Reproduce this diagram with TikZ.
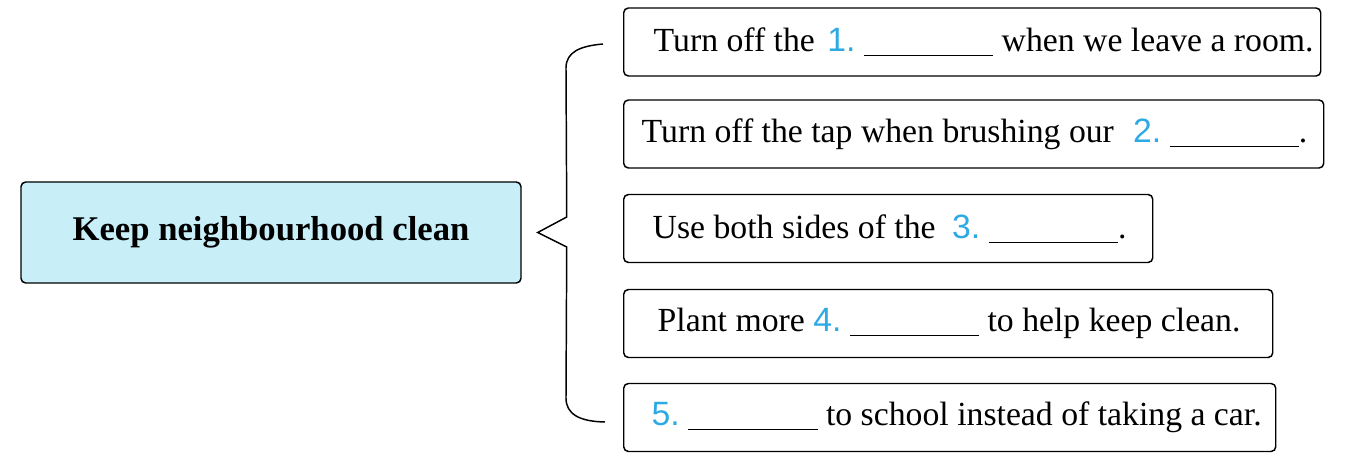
\documentclass[tikz,border=0pt]{standalone}
\usepackage{fontspec}
\setmainfont{Liberation Serif}
\newfontfamily\numfont{Liberation Sans}
\usetikzlibrary{calc}

\definecolor{numblue}{RGB}{45,170,228}
\definecolor{keepfill}{RGB}{200,238,248}
\newcommand{\qnum}[1]{{\numfont\color{numblue}#1}}
\newcommand{\qblank}{\rule[-3.5pt]{97pt}{0.8pt}}

\tikzset{every picture/.style={line width=1.1pt}}
\tikzset{
  keepbox/.style={draw, fill=keepfill, rounded corners=3.5pt, minimum width=375pt, minimum height=75.75pt, font=\fontsize{26}{30}\selectfont\bfseries},
  itembox/.style={draw, rounded corners=3.5pt, minimum height=51pt, inner sep=0pt, anchor=west},
  itemtext/.style={anchor=west, inner sep=0pt, font=\fontsize{25.3}{29}\selectfont},
}

\begin{document}
\begin{tikzpicture}[x=0.75pt,y=0.75pt,yscale=-1,xscale=1]
\useasboundingbox (0,0) rectangle (1347,466); %set diagram to 1347 x 466

%Main topic
\node[keepbox] (keep) at (271,232.5) {Keep neighbourhood clean};

%Boxes
\node[itembox, minimum width=522.75pt] (b1) at (623,42) {};
\node[itembox, minimum width=525pt] (b2) at (623,134) {};
\node[itembox, minimum width=396.75pt] (b3) at (623,228.5) {};
\node[itembox, minimum width=486.75pt] (b4) at (623,323.5) {};
\node[itembox, minimum width=489pt] (b5) at (623,417.5) {};

% Text Node
\node[itemtext] (t1) at ([xshift=22.5pt]b1.west) {Turn off the\hspace{3pt} \qnum{1.}\ \qblank\ when we leave a room.};
% Text Node
\node[itemtext] (t2) at ([xshift=13.5pt]b2.west) {Turn off the tap when brushing our\hspace{8pt} \qnum{2.}\ \qblank.};
% Text Node
\node[itemtext] (t3) at ([xshift=21.75pt]b3.west) {Use both sides of the\hspace{6pt} \qnum{3.}\ \qblank.};
% Text Node
\node[itemtext] (t4) at ([xshift=25.5pt]b4.west) {Plant more \qnum{4.}\ \qblank\ to help keep clean.};
% Text Node
\node[itemtext] (t5) at ([xshift=21pt]b5.west) {\qnum{5.}\ \qblank\ to school instead of taking a car.};

%Brace
\draw ($(b1.west)+(-20,2)$) .. controls ($(b1.west)+(-43,4)$) and ($(b1.west)+(-57,10)$) .. ($(b1.west)+(-57,26)$)
  -- ($(keep.east)+(45,-15.5)$) -- ($(keep.east)+(16,0)$) -- ($(keep.east)+(45,14.5)$)
  -- ($(b5.west)+(-57,-19.5)$) .. controls ($(b5.west)+(-57,-3)$) and ($(b5.west)+(-43,4)$) .. ($(b5.west)+(-18,4.5)$);

\end{tikzpicture}
\end{document}
